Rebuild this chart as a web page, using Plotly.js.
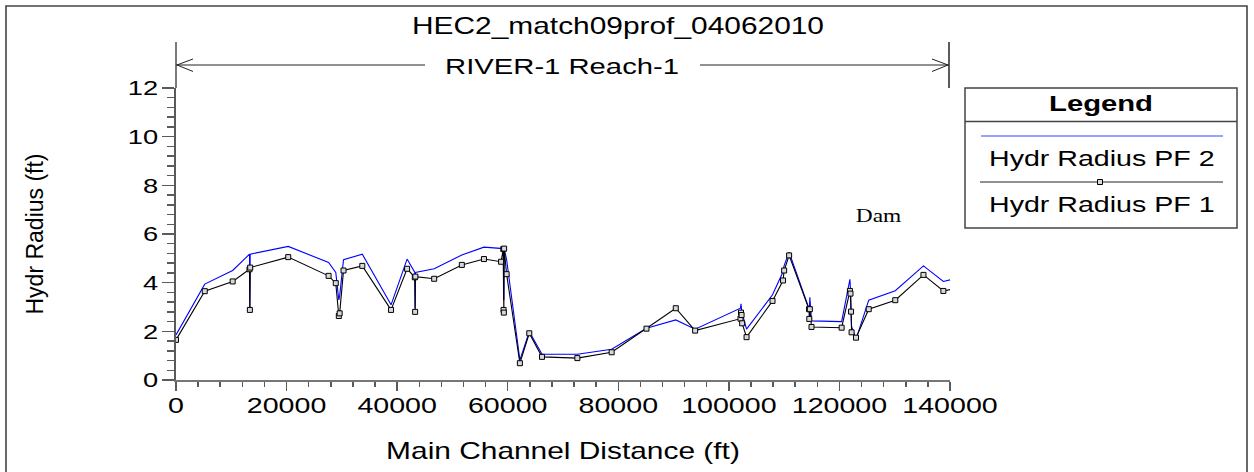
<!DOCTYPE html>
<html>
<head>
<meta charset="utf-8">
<script src="https://cdn.plot.ly/plotly-3.0.1.min.js"></script>
<style>html,body{margin:0;padding:0;background:#fff;}#chart{width:1254px;height:472px;}</style>
</head>
<body>
<div id="chart"></div>
<script>
// ---- data ----
const stations = [0, 5200, 10250, 13300, 13360, 13420, 20300, 27600, 28900, 29450, 29600, 30300, 33700, 38900, 41800, 43200, 43250, 43300, 46700, 51700, 55700, 58800, 59200, 59250, 59300, 59350, 59800, 62200, 63900, 66200, 72600, 78800, 85100, 90400, 93900, 102100, 102200, 102300, 102400, 103200, 107900, 109800, 110000, 110900, 114500, 114550, 114650, 114950, 120400, 121900, 122000, 122100, 122200, 123000, 125300, 130100, 135200, 138800, 141000];
const hydrRadiusPF1 = [1.65, 3.65, 4.05, 4.55, 2.88, 4.62, 5.05, 4.28, 3.98, 2.63, 2.74, 4.50, 4.69, 2.88, 4.57, 4.22, 2.80, 4.25, 4.16, 4.73, 4.97, 4.86, 5.38, 2.88, 2.77, 5.40, 4.35, 0.69, 1.92, 0.95, 0.90, 1.14, 2.11, 2.95, 2.03, 2.52, 2.77, 2.67, 2.33, 1.76, 3.25, 4.09, 4.50, 5.12, 2.91, 2.51, 2.91, 2.18, 2.15, 3.66, 3.55, 2.81, 1.96, 1.74, 2.91, 3.28, 4.32, 3.66, 3.76];
const hydrRadiusPF2 = [1.85, 3.94, 4.50, 5.17, 2.95, 5.17, 5.49, 4.83, 4.42, 3.29, 3.45, 4.94, 5.17, 3.09, 4.97, 4.42, 2.95, 4.42, 4.57, 5.14, 5.46, 5.40, 5.40, 3.30, 3.30, 5.40, 4.95, 0.82, 1.99, 1.06, 1.06, 1.26, 2.13, 2.47, 2.09, 2.95, 3.13, 2.90, 2.75, 2.09, 3.50, 4.45, 4.70, 5.25, 2.95, 2.90, 3.40, 2.43, 2.40, 4.14, 3.70, 2.90, 2.20, 1.67, 3.28, 3.67, 4.69, 4.05, 4.17];
const seriesNames = ['Hydr Radius PF 2', 'Hydr Radius PF 1'];
const chartTitle = 'HEC2_match09prof_04062010';
const reachLabel = 'RIVER-1 Reach-1';
const xTitle = 'Main Channel Distance (ft)';
const yTitle = 'Hydr Radius (ft)';
const damLabel = {x: 127000, y: 6.75, text: 'Dam'};

// ---- styling / layout helpers ----
const FONT = '"Liberation Sans", Arial, Helvetica, sans-serif';
const SX = 1.3; // horizontal stretch of the reference's text
const L = 176, R = 950, T = 88, B = 380;
const px = x => (x - L) / (R - L);
const py = y => (B - y) / (B - T);
const P = (x, y) => px(x).toFixed(5) + ',' + py(y).toFixed(5);

const traces = [
  {x: stations, y: hydrRadiusPF2, name: seriesNames[0], type: 'scatter', mode: 'lines',
   line: {color: '#0000ff', width: 1.1}},
  {x: stations, y: hydrRadiusPF1, name: seriesNames[1], type: 'scatter', mode: 'lines+markers',
   line: {color: '#000000', width: 1.1},
   marker: {symbol: 'square', size: 5, color: '#d8d8d8', line: {color: '#000', width: 1}}}
];

const gray = '#5a5a5a';
const shapes = [
  // outer frame
  {type: 'path', xref: 'paper', yref: 'paper', path: 'M' + P(6, 473) + 'L' + P(6, 6) + 'L' + P(1247, 6) + 'L' + P(1247, 473),
   line: {color: '#444', width: 1.6}},
  // y axis extension / reach bracket verticals
  {type: 'line', xref: 'paper', yref: 'paper', x0: px(176), x1: px(176), y0: py(42), y1: py(88), line: {color: gray, width: 1.6}},
  {type: 'line', xref: 'paper', yref: 'paper', x0: px(949), x1: px(949), y0: py(42), y1: py(88), line: {color: '#333', width: 1.6}},
  // reach arrows
  {type: 'line', xref: 'paper', yref: 'paper', x0: px(176), x1: px(425), y0: py(65), y1: py(65), line: {color: '#222', width: 1}},
  {type: 'line', xref: 'paper', yref: 'paper', x0: px(700), x1: px(949), y0: py(65), y1: py(65), line: {color: '#222', width: 1}},
  {type: 'path', xref: 'paper', yref: 'paper', path: 'M' + P(193, 59) + 'L' + P(177, 65) + 'L' + P(193, 71.5), line: {color: '#222', width: 1}},
  {type: 'path', xref: 'paper', yref: 'paper', path: 'M' + P(932, 59) + 'L' + P(948, 65) + 'L' + P(932, 71.5), line: {color: '#222', width: 1}},
  // legend box
  {type: 'rect', xref: 'paper', yref: 'paper', x0: px(965), x1: px(1237), y0: py(228), y1: py(88), line: {color: '#444', width: 1.5}},
  {type: 'line', xref: 'paper', yref: 'paper', x0: px(965), x1: px(1237), y0: py(121.5), y1: py(121.5), line: {color: '#444', width: 1.3}},
  {type: 'line', xref: 'paper', yref: 'paper', x0: px(981), x1: px(1223), y0: py(136), y1: py(136), line: {color: '#3344ff', width: 1.2}},
  {type: 'line', xref: 'paper', yref: 'paper', x0: px(980), x1: px(1223), y0: py(182), y1: py(182), line: {color: '#222', width: 1}},
  {type: 'rect', xref: 'paper', yref: 'paper', x0: px(1097.5), x1: px(1102.5), y0: py(184.5), y1: py(179.5), fillcolor: '#d8d8d8', line: {color: '#000', width: 1}}
];

const annotations = [
  {xref: 'paper', yref: 'paper', x: px(561.5), y: py(66.5), text: reachLabel, showarrow: false, xanchor: 'center', yanchor: 'middle',
   font: {family: FONT, size: 22.5, color: '#000'}},
  {xref: 'paper', yref: 'paper', x: px(1101), y: py(103.5), text: '<b>Legend</b>', showarrow: false, xanchor: 'center', yanchor: 'middle',
   font: {family: FONT, size: 22.5, color: '#000'}},
  {xref: 'paper', yref: 'paper', x: px(1102), y: py(158.5), text: seriesNames[0], showarrow: false, xanchor: 'center', yanchor: 'middle',
   font: {family: FONT, size: 22, color: '#000'}},
  {xref: 'paper', yref: 'paper', x: px(1102), y: py(204.5), text: seriesNames[1], showarrow: false, xanchor: 'center', yanchor: 'middle',
   font: {family: FONT, size: 22, color: '#000'}},
  {xref: 'x', yref: 'y', x: damLabel.x, y: damLabel.y, text: damLabel.text, showarrow: false, xanchor: 'center', yanchor: 'middle',
   font: {family: '"Liberation Serif", "Times New Roman", serif', size: 18, color: '#000'}}
];

const layout = {
  width: 1254, height: 472,
  margin: {l: L, r: 1254 - R, t: T, b: 472 - B, pad: 0},
  paper_bgcolor: '#fff', plot_bgcolor: '#fff',
  showlegend: false,
  font: {family: FONT, color: '#000'},
  title: {text: chartTitle, font: {family: FONT, size: 23, color: '#000'},
          xref: 'container', yref: 'container', x: 618 / 1254, y: 1 - 25.5 / 472, xanchor: 'center', yanchor: 'middle'},
  xaxis: {
    range: [0, 140000], tick0: 0, dtick: 20000, tickformat: 'd',
    showgrid: false, zeroline: false, showline: true, linecolor: '#777', linewidth: 2,
    ticks: 'outside', ticklen: 9, tickwidth: 1.5, tickcolor: gray, ticklabelstandoff: -4,
    minor: {dtick: 4000, tick0: 0, ticks: 'outside', ticklen: 5, tickwidth: 1.5, tickcolor: gray},
    tickfont: {family: FONT, size: 22, color: '#000'},
    title: {text: xTitle, font: {family: FONT, size: 23, color: '#000'}, standoff: 26}
  },
  yaxis: {
    range: [0, 12], tick0: 0, dtick: 2,
    showgrid: false, zeroline: false, showline: true, linecolor: gray, linewidth: 1.6,
    ticks: 'outside', ticklen: 12, tickwidth: 1.5, tickcolor: gray,
    minor: {dtick: 0.4, tick0: 0, ticks: 'outside', ticklen: 7, tickwidth: 1.5, tickcolor: gray},
    tickfont: {family: FONT, size: 21, color: '#000'},
    title: {text: yTitle, font: {family: FONT, size: 23, color: '#000'}, standoff: 85}
  },
  shapes: shapes,
  annotations: annotations
};

function stretchTexts(gd) {
  const els = gd.querySelectorAll('.gtitle, .xtick text, .ytick text, .xtitle, .annotation-text');
  els.forEach(el => {
    const bb = el.getBBox();
    const anchor = el.getAttribute('text-anchor') || 'middle';
    const cx = anchor === 'end' ? bb.x + bb.width : (anchor === 'start' ? bb.x : bb.x + bb.width / 2);
    const t = el.getAttribute('transform') || '';
    el.setAttribute('transform', t + ' translate(' + cx + ',0) scale(' + SX + ',1) translate(' + (-cx) + ',0)');
  });
}

Plotly.newPlot('chart', traces, layout, {displayModeBar: false, staticPlot: true}).then(gd => stretchTexts(gd));
</script>
</body>
</html>
